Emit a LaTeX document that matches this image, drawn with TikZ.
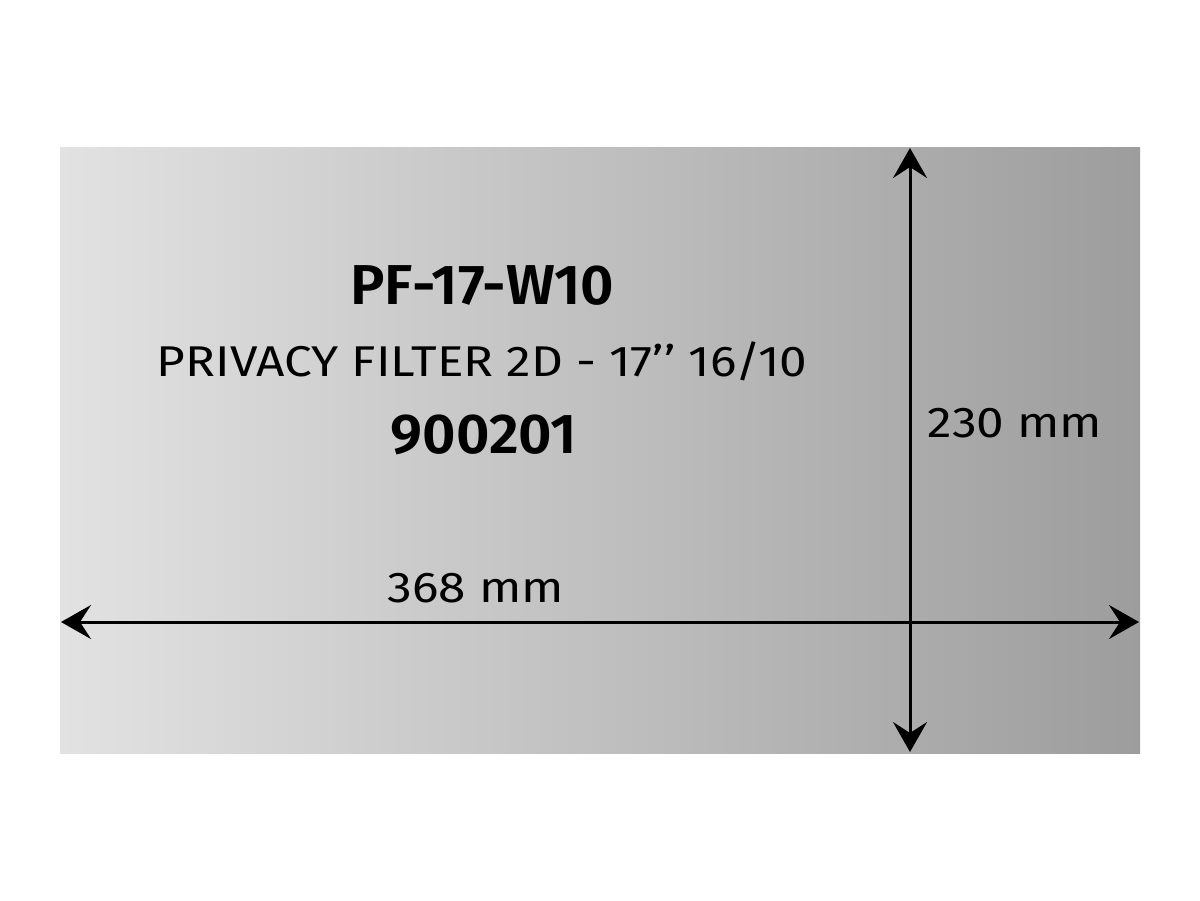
\documentclass[tikz,border=0pt]{standalone}
\usepackage{fontspec}
\setmainfont{Fira Sans}
\newfontfamily\widefont[FakeStretch=1.15]{Fira Sans}
\newfontfamily\widebold[FakeStretch=1.03]{Fira Sans SemiBold}
\usetikzlibrary{arrows.meta}
\definecolor{panelL}{RGB}{226,226,226}
\definecolor{panelR}{RGB}{157,157,157}
\begin{document}
\begin{tikzpicture}[x=0.02cm,y=-0.02cm,
  dim/.style={line width=1.7pt,{Stealth[length=0.6cm,width=0.68cm,inset=0.22cm]}-{Stealth[length=0.6cm,width=0.68cm,inset=0.22cm]}},
  label/.style={font=\widefont\fontsize{24.5}{28}\selectfont,inner sep=0pt},
  title/.style={font=\widebold\fontsize{32}{36}\selectfont,inner sep=0pt}]
\useasboundingbox (0,0) rectangle (1200,900);
\fill[white] (0,0) rectangle (1200,900);
\shade[left color=panelL,right color=panelR] (60,147) rectangle (1140,753);
\coordinate (hl) at (61,622);
\coordinate (hr) at (1139,622);
\coordinate (vt) at (910,148);
\coordinate (vb) at (910,752);
\draw[dim] (hl) -- (hr);
\draw[dim] (vb) -- (vt);
\node[title] (model) at (482,285) {PF-17-W10};
\node[label] (desc) at (482,361) {PRIVACY FILTER 2D - 17’’ 16/10};
\node[title] (code) at (484,435) {900201};
\node[label] (hgt) at (1015,423) {230 mm};
\node[label] (wid) at (476,588) {368 mm};
\end{tikzpicture}
\end{document}
